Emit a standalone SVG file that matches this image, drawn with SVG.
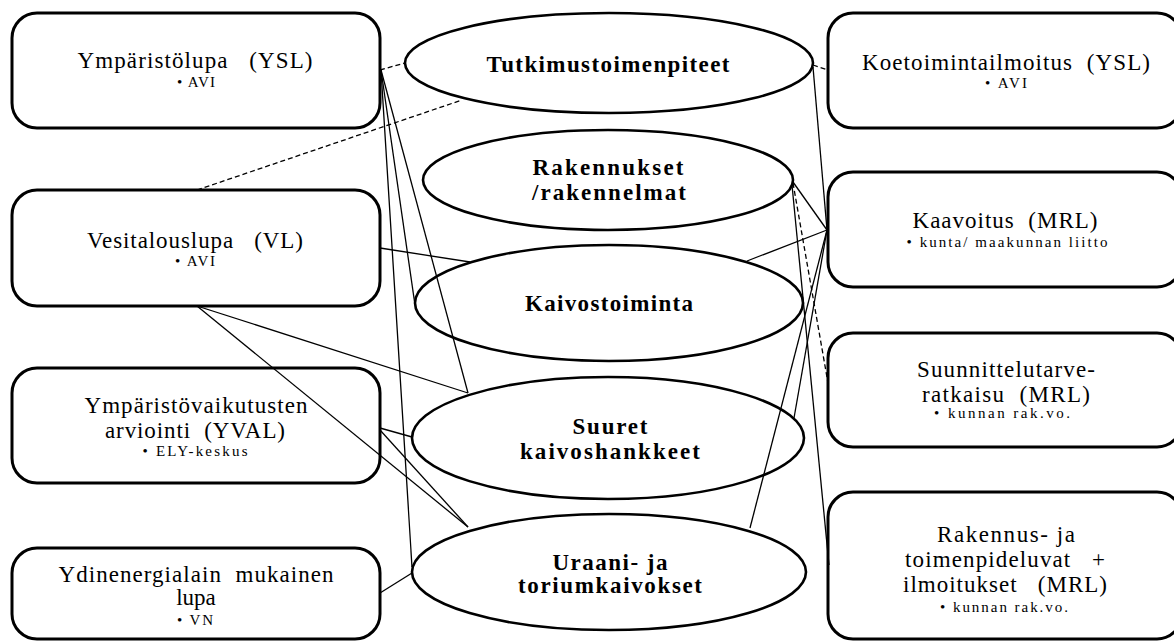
<svg xmlns="http://www.w3.org/2000/svg" width="1174" height="641" viewBox="0 0 1174 641">
<style>
.box{fill:#fff;stroke:#000;stroke-width:3}
.ell{fill:#fff;stroke:#000;stroke-width:2.6}
text{white-space:pre}
.t{font-family:"Liberation Serif",serif;font-size:23px;fill:#000;text-anchor:middle}
.s{font-family:"Liberation Serif",serif;font-size:15px;fill:#000;text-anchor:middle}
.b{font-family:"Liberation Serif",serif;font-size:23px;font-weight:bold;fill:#000;text-anchor:middle}
.c line{stroke:#000;stroke-width:1.3;fill:none}
.c line.d{stroke-dasharray:5,3}
</style>
<rect width="1174" height="641" fill="#fff"/>
<g id="n-ysl"><rect class="box" x="12" y="13" width="368" height="115" rx="25"/>
<text class="t" x="195" y="68" textLength="235" lengthAdjust="spacing">Ympäristölupa   (YSL)</text>
<text class="s" x="196" y="87" textLength="38" lengthAdjust="spacing">• AVI</text></g>
<g id="n-vl"><rect class="box" x="12" y="190" width="368" height="116" rx="25"/>
<text class="t" x="195" y="248" textLength="216" lengthAdjust="spacing">Vesitalouslupa   (VL)</text>
<text class="s" x="195" y="266" textLength="40" lengthAdjust="spacing">• AVI</text></g>
<g id="n-yva"><rect class="box" x="12" y="368" width="368" height="115" rx="25"/>
<text class="t" x="196" y="413" textLength="223" lengthAdjust="spacing">Ympäristövaikutusten</text>
<text class="t" x="195" y="438" textLength="180" lengthAdjust="spacing">arviointi  (YVAL)</text>
<text class="s" x="195" y="456" textLength="105" lengthAdjust="spacing">• ELY-keskus</text></g>
<g id="n-ydin"><rect class="box" x="12" y="548" width="368" height="91" rx="25"/>
<text class="t" x="196" y="582" textLength="275" lengthAdjust="spacing">Ydinenergialain  mukainen</text>
<text class="t" x="196" y="605">lupa</text>
<text class="s" x="195" y="625" textLength="36" lengthAdjust="spacing">• VN</text></g>
<g id="e-tutk"><ellipse class="ell" cx="609" cy="63" rx="204" ry="50"/>
<text class="b" x="608" y="72" textLength="243" lengthAdjust="spacing">Tutkimustoimenpiteet</text></g>
<g id="e-rak"><ellipse class="ell" cx="608" cy="180" rx="185" ry="50"/>
<text class="b" x="608" y="175" textLength="151" lengthAdjust="spacing">Rakennukset</text>
<text class="b" x="609" y="200" textLength="154" lengthAdjust="spacing">/rakennelmat</text></g>
<g id="e-kaiv"><ellipse class="ell" cx="609" cy="303" rx="194" ry="58"/>
<text class="b" x="609" y="311" textLength="168" lengthAdjust="spacing">Kaivostoiminta</text></g>
<g id="e-suur"><ellipse class="ell" cx="608" cy="438" rx="196" ry="61"/>
<text class="b" x="610" y="434" textLength="75" lengthAdjust="spacing">Suuret</text>
<text class="b" x="610" y="459" textLength="180" lengthAdjust="spacing">kaivoshankkeet</text></g>
<g id="e-uraani"><ellipse class="ell" cx="609" cy="572" rx="197" ry="58"/>
<text class="b" x="610" y="570" textLength="115" lengthAdjust="spacing">Uraani- ja</text>
<text class="b" x="610" y="593" textLength="184" lengthAdjust="spacing">toriumkaivokset</text></g>
<g id="n-koe"><rect class="box" x="828" y="13" width="354" height="115" rx="25"/>
<text class="t" x="1006" y="70" textLength="288" lengthAdjust="spacing">Koetoimintailmoitus  (YSL)</text>
<text class="s" x="1006" y="88" textLength="42" lengthAdjust="spacing">• AVI</text></g>
<g id="n-kaav"><rect class="box" x="828" y="172" width="354" height="115" rx="25"/>
<text class="t" x="1005" y="228" textLength="185" lengthAdjust="spacing">Kaavoitus  (MRL)</text>
<text class="s" x="1007" y="247" textLength="201" lengthAdjust="spacing">• kunta/ maakunnan liitto</text></g>
<g id="n-suun"><rect class="box" x="828" y="333" width="354" height="114" rx="25"/>
<text class="t" x="1006" y="377" textLength="178" lengthAdjust="spacing">Suunnittelutarve-</text>
<text class="t" x="1006" y="402" textLength="168" lengthAdjust="spacing">ratkaisu  (MRL)</text>
<text class="s" x="1002" y="418" textLength="136" lengthAdjust="spacing">• kunnan rak.vo.</text></g>
<g id="n-rakl"><rect class="box" x="828" y="492" width="354" height="147" rx="25"/>
<text class="t" x="1006" y="542" textLength="138" lengthAdjust="spacing">Rakennus- ja</text>
<text class="t" x="1005" y="567" textLength="200" lengthAdjust="spacing">toimenpideluvat   +</text>
<text class="t" x="1005" y="592" textLength="204" lengthAdjust="spacing">ilmoitukset   (MRL)</text>
<text class="s" x="1004" y="612" textLength="128" lengthAdjust="spacing">• kunnan rak.vo.</text></g>
<g class="c" id="connectors">
<line class="d" x1="380" y1="70" x2="405" y2="63"/>
<line class="d" x1="197" y1="190" x2="462" y2="100"/>
<line x1="381" y1="70" x2="412" y2="567"/>
<line x1="381" y1="70" x2="415" y2="305"/>
<line x1="381" y1="70" x2="468" y2="393"/>
<line x1="380" y1="248" x2="470" y2="262"/>
<line x1="197" y1="306" x2="468" y2="393"/>
<line x1="197" y1="306" x2="468" y2="527"/>
<line x1="380" y1="428" x2="412" y2="437"/>
<line x1="380" y1="430" x2="468" y2="527"/>
<line x1="380" y1="593" x2="412" y2="573"/>
<line class="d" x1="813" y1="65" x2="828" y2="70"/>
<line x1="813" y1="67" x2="827" y2="230"/>
<line x1="793" y1="182" x2="827" y2="230"/>
<line x1="747" y1="261" x2="827" y2="230"/>
<line x1="827" y1="230" x2="750" y2="528"/>
<line x1="827" y1="230" x2="794" y2="418"/>
<line class="d" x1="793" y1="183" x2="828" y2="383"/>
<line x1="792" y1="185" x2="829" y2="565"/>
</g>
</svg>
